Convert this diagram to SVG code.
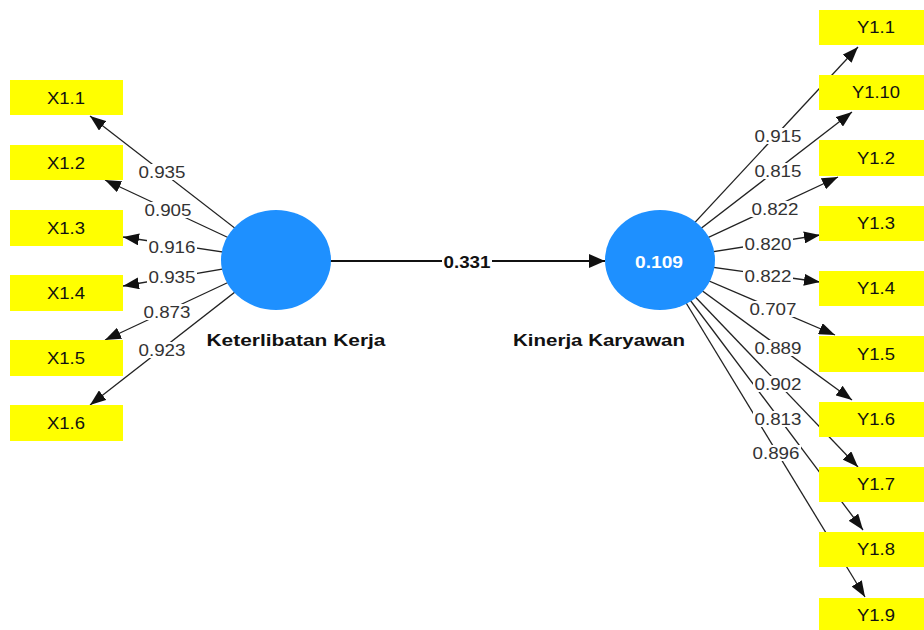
<svg xmlns="http://www.w3.org/2000/svg" width="924" height="630" viewBox="0 0 924 630">
<style>
.box{fill:#FFFF00}
.bt{font-family:"Liberation Sans",Arial,sans-serif;font-size:16.5px;fill:#111;text-anchor:middle}
.ld{stroke:#222;stroke-width:1.3;fill:none}
.lt{font-family:"Liberation Sans",Arial,sans-serif;font-size:17px;fill:#333;text-anchor:middle}
.bg{fill:#fff}
.lv{fill:#1E90FF}
.lvt{font-family:"Liberation Sans",Arial,sans-serif;font-size:17px;font-weight:bold;fill:#111;text-anchor:middle}
</style>
<defs>
<marker id="ah" markerUnits="userSpaceOnUse" markerWidth="16" markerHeight="12" refX="16" refY="6" orient="auto">
<path d="M0,0 L16,6 L0,12 z" fill="#111"/>
</marker>
<marker id="ahm" markerUnits="userSpaceOnUse" markerWidth="16" markerHeight="14" refX="16" refY="7" orient="auto">
<path d="M0,0 L16,7 L0,14 z" fill="#111"/>
</marker>
</defs>
<rect width="924" height="630" fill="#fff"/>
<g id="connectors">
<line class="ld" x1="276" y1="260" x2="90" y2="116" marker-end="url(#ah)"/>
<line class="ld" x1="276" y1="260" x2="105" y2="180" marker-end="url(#ah)"/>
<line class="ld" x1="276" y1="260" x2="123" y2="237" marker-end="url(#ah)"/>
<line class="ld" x1="276" y1="260" x2="123" y2="286" marker-end="url(#ah)"/>
<line class="ld" x1="276" y1="260" x2="105" y2="340" marker-end="url(#ah)"/>
<line class="ld" x1="276" y1="260" x2="90" y2="405" marker-end="url(#ah)"/>
<line class="ld" x1="660" y1="260" x2="858" y2="47" marker-end="url(#ah)"/>
<line class="ld" x1="660" y1="260" x2="852" y2="112" marker-end="url(#ah)"/>
<line class="ld" x1="660" y1="260" x2="838" y2="177" marker-end="url(#ah)"/>
<line class="ld" x1="660" y1="260" x2="820" y2="235" marker-end="url(#ah)"/>
<line class="ld" x1="660" y1="260" x2="820" y2="282" marker-end="url(#ah)"/>
<line class="ld" x1="660" y1="260" x2="835" y2="335" marker-end="url(#ah)"/>
<line class="ld" x1="660" y1="260" x2="852" y2="400" marker-end="url(#ah)"/>
<line class="ld" x1="660" y1="260" x2="858" y2="467" marker-end="url(#ah)"/>
<line class="ld" x1="660" y1="260" x2="863" y2="530" marker-end="url(#ah)"/>
<line class="ld" x1="660" y1="260" x2="865" y2="597" marker-end="url(#ah)"/>
<line x1="330" y1="261" x2="605" y2="261" stroke="#111" stroke-width="2.2" marker-end="url(#ahm)"/>
<g id="loading-labels">
<rect class="bg" x="137" y="164" width="50" height="16"/><text class="lt" x="162" y="178" textLength="47" lengthAdjust="spacingAndGlyphs">0.935</text>
<rect class="bg" x="143" y="202" width="50" height="16"/><text class="lt" x="168" y="216" textLength="47" lengthAdjust="spacingAndGlyphs">0.905</text>
<rect class="bg" x="147" y="239" width="50" height="16"/><text class="lt" x="172" y="253" textLength="47" lengthAdjust="spacingAndGlyphs">0.916</text>
<rect class="bg" x="147" y="269" width="50" height="16"/><text class="lt" x="172" y="283" textLength="47" lengthAdjust="spacingAndGlyphs">0.935</text>
<rect class="bg" x="142" y="304" width="50" height="16"/><text class="lt" x="167" y="318" textLength="47" lengthAdjust="spacingAndGlyphs">0.873</text>
<rect class="bg" x="137" y="342" width="50" height="16"/><text class="lt" x="162" y="356" textLength="47" lengthAdjust="spacingAndGlyphs">0.923</text>
<rect class="bg" x="753" y="128" width="50" height="16"/><text class="lt" x="778" y="142" textLength="47" lengthAdjust="spacingAndGlyphs">0.915</text>
<rect class="bg" x="753" y="163" width="50" height="16"/><text class="lt" x="778" y="177" textLength="47" lengthAdjust="spacingAndGlyphs">0.815</text>
<rect class="bg" x="750" y="201" width="50" height="16"/><text class="lt" x="775" y="215" textLength="47" lengthAdjust="spacingAndGlyphs">0.822</text>
<rect class="bg" x="743" y="236" width="50" height="16"/><text class="lt" x="768" y="250" textLength="47" lengthAdjust="spacingAndGlyphs">0.820</text>
<rect class="bg" x="743" y="268" width="50" height="16"/><text class="lt" x="768" y="282" textLength="47" lengthAdjust="spacingAndGlyphs">0.822</text>
<rect class="bg" x="748" y="301" width="50" height="16"/><text class="lt" x="773" y="315" textLength="47" lengthAdjust="spacingAndGlyphs">0.707</text>
<rect class="bg" x="753" y="340" width="50" height="16"/><text class="lt" x="778" y="354" textLength="47" lengthAdjust="spacingAndGlyphs">0.889</text>
<rect class="bg" x="753" y="376" width="50" height="16"/><text class="lt" x="778" y="390" textLength="47" lengthAdjust="spacingAndGlyphs">0.902</text>
<rect class="bg" x="753" y="411" width="50" height="16"/><text class="lt" x="778" y="425" textLength="47" lengthAdjust="spacingAndGlyphs">0.813</text>
<rect class="bg" x="751" y="445" width="50" height="16"/><text class="lt" x="776" y="459" textLength="47" lengthAdjust="spacingAndGlyphs">0.896</text>
<rect class="bg" x="442" y="252" width="50" height="18"/><text class="lvt" x="467" y="268" textLength="47" lengthAdjust="spacingAndGlyphs">0.331</text>
</g>
</g>
<g id="KeterlibatanKerja">
<ellipse class="lv" cx="276" cy="260" rx="55" ry="50"/>
<text class="lvt" x="296" y="346" textLength="179" lengthAdjust="spacingAndGlyphs">Keterlibatan Kerja</text>
</g>
<g id="KinerjaKaryawan">
<ellipse class="lv" cx="660" cy="260" rx="55" ry="50"/>
<text class="lvt" x="659" y="268" style="fill:#fff" textLength="48" lengthAdjust="spacingAndGlyphs">0.109</text>
<text class="lvt" x="599" y="346" textLength="172" lengthAdjust="spacingAndGlyphs">Kinerja Karyawan</text>
</g>
<g id="X1.1"><rect class="box" x="10" y="80" width="113" height="35"/><text class="bt" x="66" y="104" textLength="38" lengthAdjust="spacingAndGlyphs">X1.1</text></g>
<g id="X1.2"><rect class="box" x="10" y="145" width="113" height="35"/><text class="bt" x="66" y="169" textLength="38" lengthAdjust="spacingAndGlyphs">X1.2</text></g>
<g id="X1.3"><rect class="box" x="10" y="210" width="113" height="36"/><text class="bt" x="66" y="234" textLength="38" lengthAdjust="spacingAndGlyphs">X1.3</text></g>
<g id="X1.4"><rect class="box" x="10" y="275" width="113" height="36"/><text class="bt" x="66" y="299" textLength="38" lengthAdjust="spacingAndGlyphs">X1.4</text></g>
<g id="X1.5"><rect class="box" x="10" y="340" width="113" height="36"/><text class="bt" x="66" y="364" textLength="38" lengthAdjust="spacingAndGlyphs">X1.5</text></g>
<g id="X1.6"><rect class="box" x="10" y="405" width="113" height="36"/><text class="bt" x="66" y="429" textLength="38" lengthAdjust="spacingAndGlyphs">X1.6</text></g>
<g id="Y1.1"><rect class="box" x="819" y="10" width="113" height="35"/><text class="bt" x="876" y="33" textLength="38" lengthAdjust="spacingAndGlyphs">Y1.1</text></g>
<g id="Y1.10"><rect class="box" x="819" y="75" width="113" height="35"/><text class="bt" x="876" y="98" textLength="48" lengthAdjust="spacingAndGlyphs">Y1.10</text></g>
<g id="Y1.2"><rect class="box" x="819" y="140" width="113" height="36"/><text class="bt" x="876" y="164" textLength="38" lengthAdjust="spacingAndGlyphs">Y1.2</text></g>
<g id="Y1.3"><rect class="box" x="819" y="206" width="113" height="35"/><text class="bt" x="876" y="229" textLength="38" lengthAdjust="spacingAndGlyphs">Y1.3</text></g>
<g id="Y1.4"><rect class="box" x="819" y="271" width="113" height="35"/><text class="bt" x="876" y="294" textLength="38" lengthAdjust="spacingAndGlyphs">Y1.4</text></g>
<g id="Y1.5"><rect class="box" x="819" y="336" width="113" height="36"/><text class="bt" x="876" y="360" textLength="38" lengthAdjust="spacingAndGlyphs">Y1.5</text></g>
<g id="Y1.6"><rect class="box" x="819" y="402" width="113" height="35"/><text class="bt" x="876" y="425" textLength="38" lengthAdjust="spacingAndGlyphs">Y1.6</text></g>
<g id="Y1.7"><rect class="box" x="819" y="467" width="113" height="35"/><text class="bt" x="876" y="490" textLength="38" lengthAdjust="spacingAndGlyphs">Y1.7</text></g>
<g id="Y1.8"><rect class="box" x="819" y="532" width="113" height="35"/><text class="bt" x="876" y="555" textLength="38" lengthAdjust="spacingAndGlyphs">Y1.8</text></g>
<g id="Y1.9"><rect class="box" x="819" y="598" width="113" height="36"/><text class="bt" x="876" y="621" textLength="38" lengthAdjust="spacingAndGlyphs">Y1.9</text></g>
</svg>
